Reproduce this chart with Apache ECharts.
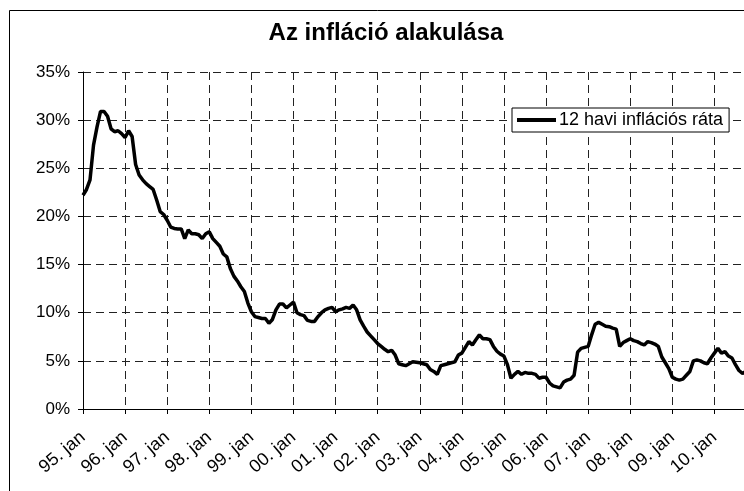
<!DOCTYPE html>
<html>
<head>
<meta charset="utf-8">
<script src="https://cdn.jsdelivr.net/npm/echarts@6/dist/echarts.min.js"></script>
<style>
  html, body { margin: 0; padding: 0; background: #fff; }
  #chart { width: 744px; height: 491px; }
</style>
</head>
<body>
<div id="chart"></div>
<script>
// year prefixes and month names used for the category axis
var years = ['95', '96', '97', '98', '99', '00', '01', '02', '03', '04', '05', '06', '07', '08', '09', '10'];
var months = ['jan', 'febr', 'márc', 'ápr', 'máj', 'jún', 'júl', 'aug', 'szept', 'okt', 'nov', 'dec'];

// 12 havi inflációs ráta (%), monthly from 1995 jan
var inflation = [
  22.2, 22.8, 23.8, 27.4, 29.3, 30.9, 30.9, 30.4, 29.1, 28.8, 28.9, 28.6,
  28.2, 28.9, 28.3, 25.4, 24.3, 23.8, 23.4, 23.1, 22.8, 21.7, 20.5, 20.2,
  19.6, 18.9, 18.75, 18.7, 18.7, 17.7, 18.6, 18.2, 18.2, 18.1, 17.7, 18.2,
  18.4, 17.7, 17.3, 16.9, 16.1, 15.8, 14.6, 13.8, 13.3, 12.7, 12.2, 11.0,
  10.1, 9.6, 9.5, 9.4, 9.4, 8.9, 9.3, 10.3, 10.9, 10.9, 10.5, 10.8,
  11.1, 10.0, 9.8, 9.7, 9.2, 9.1, 9.1, 9.6, 10.0, 10.3, 10.45, 10.55,
  10.1, 10.3, 10.4, 10.55, 10.45, 10.8, 10.3, 9.25, 8.6, 8.0, 7.6, 7.2,
  6.8, 6.5, 6.2, 5.95, 6.1, 5.6, 4.7, 4.6, 4.5, 4.7, 4.9, 4.85,
  4.8, 4.7, 4.6, 4.1, 3.9, 3.6, 4.5, 4.6, 4.7, 4.8, 4.9, 5.6,
  5.8, 6.4, 7.0, 6.65, 7.2, 7.7, 7.3, 7.3, 7.2, 6.5, 6.0, 5.7,
  5.5, 4.6, 3.2, 3.6, 3.9, 3.6, 3.8, 3.7, 3.7, 3.6, 3.2, 3.3,
  3.3, 2.7, 2.4, 2.3, 2.2, 2.8, 3.0, 3.1, 3.5, 5.9, 6.3, 6.4,
  6.5, 7.7, 8.8, 9.0, 8.8, 8.6, 8.55, 8.4, 8.3, 6.5, 6.9, 7.1,
  7.3, 7.1, 7.0, 6.8, 6.65, 7.0, 6.9, 6.75, 6.5, 5.4, 4.8, 4.2,
  3.3, 3.1, 3.0, 3.1, 3.5, 3.9, 5.0, 5.1, 5.0, 4.8, 4.7, 5.3,
  5.8, 6.3, 5.8, 5.95, 5.5, 5.3, 4.6, 4.0, 3.7, 3.9, 4.2, 4.7
];

var yTicks = { min: 0, max: 35, step: 5 };

var categories = [];
years.forEach(function (y) {
  months.forEach(function (m) {
    categories.push(y + '. ' + m);
  });
});

var font = "'Liberation Sans', Arial, sans-serif";
var onYear = function (idx) { return idx % 12 === 0; };

var chart = echarts.init(document.getElementById('chart'));
var option = {
  animation: false,
  backgroundColor: '#fff',
  title: {
    text: 'Az infláció alakulása',
    left: 381,
    textAlign: 'center',
    top: 16,
    textStyle: { fontFamily: font, fontWeight: 'bold', fontSize: 24, color: '#000' }
  },
  legend: {
    data: ['12 havi inflációs ráta'],
    left: 512,
    top: 108,
    orient: 'horizontal',
    icon: 'rect',
    itemWidth: 39,
    itemHeight: 4,
    itemGap: 0,
    padding: [3, 6, 3, 5],
    borderColor: '#000',
    borderWidth: 1,
    borderRadius: 0,
    backgroundColor: '#fff',
    textStyle: { fontFamily: font, fontSize: 18, color: '#000', padding: [0, 0, 0, -2] }
  },
  grid: {
    left: 83,
    top: 72,
    height: 337,
    width: 670,
    outerBoundsMode: 'none'
  },
  xAxis: {
    type: 'category',
    data: categories,
    boundaryGap: false,
    axisLine: { lineStyle: { color: '#000', width: 1 } },
    axisTick: { show: true, interval: onYear, length: 5, lineStyle: { color: '#000' } },
    axisLabel: {
      interval: onYear,
      rotate: 40,
      margin: 26,
      fontFamily: font,
      fontSize: 18,
      color: '#000'
    },
    splitLine: {
      show: true,
      interval: onYear,
      lineStyle: { color: '#222', type: [8, 5], width: 1 }
    }
  },
  yAxis: {
    type: 'value',
    min: yTicks.min,
    max: yTicks.max,
    interval: yTicks.step,
    axisLine: { show: true, lineStyle: { color: '#000', width: 1 } },
    axisTick: { show: true, length: 5, lineStyle: { color: '#000' } },
    axisLabel: {
      formatter: '{value}%',
      margin: 13,
      fontFamily: font,
      fontSize: 17,
      color: '#000'
    },
    splitLine: {
      show: true,
      lineStyle: { color: '#222', type: [8, 5], width: 1 }
    }
  },
  graphic: [{
    type: 'rect',
    silent: true,
    z: 100,
    shape: { x: 9.5, y: 10.5, width: 900, height: 700 },
    style: { fill: 'none', stroke: '#000', lineWidth: 1 }
  }],
  series: [{
    name: '12 havi inflációs ráta',
    type: 'line',
    data: inflation,
    symbol: 'none',
    smooth: false,
    color: '#000',
    lineStyle: { color: '#000', width: 3.5 }
  }]
};
chart.setOption(option);
</script>
</body>
</html>
